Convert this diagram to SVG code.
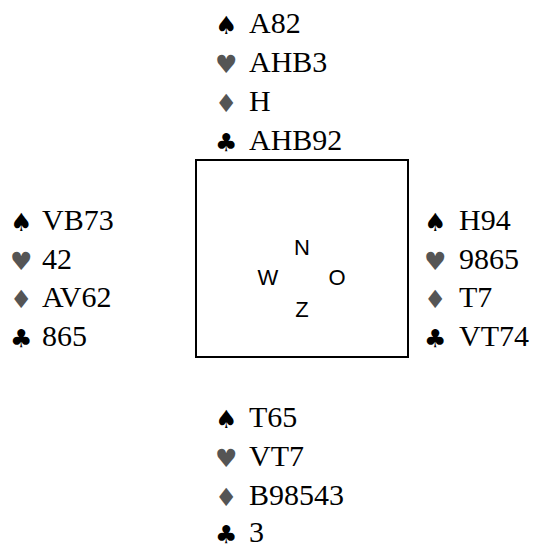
<svg xmlns="http://www.w3.org/2000/svg" width="536" height="546" viewBox="0 0 536 546">
<style>
.s{font-family:'DejaVu Sans',sans-serif;font-size:25px;fill:#000}
.r{fill:#555}
.t{font-family:'Liberation Serif','Times New Roman',serif;font-size:30px;fill:#000}
.d{font-family:'Liberation Sans',Arial,sans-serif;font-size:22px;fill:#000;text-anchor:middle}
</style>
<rect width="536" height="546" fill="#fff"/>
<g id="north">
<text class="s" x="215" y="34">♠</text><text class="t" x="249" y="33">A82</text>
<text class="s r" x="215" y="73">♥</text><text class="t" x="249" y="72">AHB3</text>
<text class="s r" x="215" y="112">♦</text><text class="t" x="249" y="111">H</text>
<text class="s" x="215" y="151">♣</text><text class="t" x="249" y="150">AHB92</text>
</g>
<g id="west">
<text class="s" x="10" y="231">♠</text><text class="t" x="42" y="230">VB73</text>
<text class="s r" x="10" y="270">♥</text><text class="t" x="42" y="269">42</text>
<text class="s r" x="10" y="308">♦</text><text class="t" x="42" y="307">AV62</text>
<text class="s" x="10" y="347">♣</text><text class="t" x="42" y="346">865</text>
</g>
<g id="east">
<text class="s" x="424" y="231">♠</text><text class="t" x="459" y="230">H94</text>
<text class="s r" x="424" y="270">♥</text><text class="t" x="459" y="269">9865</text>
<text class="s r" x="424" y="308">♦</text><text class="t" x="459" y="307">T7</text>
<text class="s" x="424" y="347">♣</text><text class="t" x="459" y="346">VT74</text>
</g>
<g id="south">
<text class="s" x="215" y="428">♠</text><text class="t" x="249" y="427">T65</text>
<text class="s r" x="215" y="467">♥</text><text class="t" x="249" y="466">VT7</text>
<text class="s r" x="215" y="506">♦</text><text class="t" x="249" y="505">B98543</text>
<text class="s" x="215" y="543">♣</text><text class="t" x="249" y="542">3</text>
</g>
<g id="table">
<rect x="196" y="160" width="212" height="197" fill="none" stroke="#000" stroke-width="2"/>
<text class="d" x="302" y="255">N</text>
<text class="d" x="268" y="285">W</text>
<text class="d" x="337" y="285">O</text>
<text class="d" x="302" y="317">Z</text>
</g>
</svg>
